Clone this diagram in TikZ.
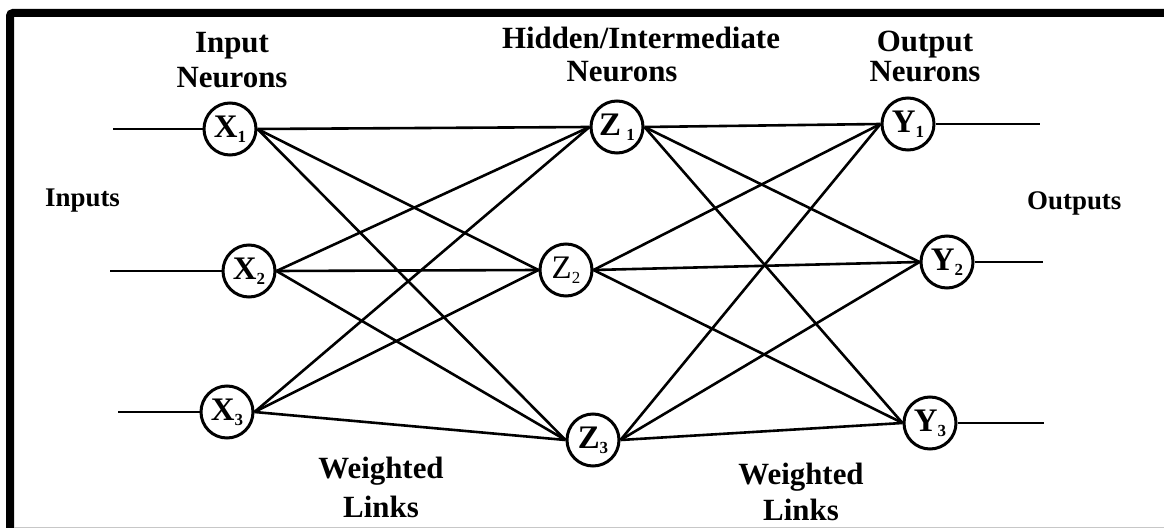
\documentclass[tikz,border=0pt]{standalone}
\usepackage{fontspec}
\setmainfont{Liberation Serif}
\newcommand\nsub[1]{\raisebox{-5bp}{\fontsize{17}{17}\selectfont#1}}
\begin{document}
\begin{tikzpicture}[x=1bp,y=-1bp,
  neuron/.style={circle,draw,line width=3bp,minimum size=52bp,inner sep=0pt,
    font=\fontsize{33}{33}\selectfont\bfseries},
  link/.style={line width=2.6bp},
  heading/.style={font=\fontsize{31}{35}\selectfont\bfseries,inner sep=0pt,anchor=base},
  side/.style={font=\fontsize{27}{30}\selectfont\bfseries,inner sep=0pt,anchor=base west}]
\useasboundingbox (0,0) rectangle (1164,528);
\fill[white] (0,0) rectangle (1164,528);
% frame: thick top and left edges, faint bottom rule
\draw[line width=8bp, rounded corners=3bp] (10,540) -- (10,13) -- (1175,13);
\draw[black!22, line width=1bp] (14,527.5) -- (1164,527.5);

% neurons
\node[neuron] (x1) at (230,129) {X\nsub{1}};
\node[neuron] (x2) at (249,271) {X\nsub{2}};
\node[neuron] (x3) at (227,412) {X\nsub{3}};
\node[neuron] (z1) at (617,127) {Z\,\nsub{1}};
\node[neuron] (z2) at (566,270) {\mdseries Z\nsub{2}};
\node[neuron] (z3) at (593,440) {Z\nsub{3}};
\node[neuron] (y1) at (908,124) {Y\nsub{1}};
\node[neuron] (y2) at (947,262) {Y\nsub{2}};
\node[neuron] (y3) at (930,423) {Y\nsub{3}};

% free ends of the input and output lines
\coordinate (in1) at (113,129);
\coordinate (in2) at (110,271);
\coordinate (in3) at (118,412);
\coordinate (out1) at (1040,124);
\coordinate (out2) at (1043,262);
\coordinate (out3) at (1044,423);

\foreach \i in {1,2,3} {
  \draw[link] (in\i) -- (x\i.west);
  \draw[link] (y\i.east) -- (out\i);
}
\foreach \a in {1,2,3} {
  \foreach \b in {1,2,3} {
    \draw[link] (x\a.east) -- (z\b.west);
    \draw[link] (z\a.east) -- (y\b.west);
  }
}

% labels
\node[heading] (hin) at (232,53) {\begin{tabular}[t]{@{}c@{}}Input\\Neurons\end{tabular}};
\node[heading] (hhid) at (641,49) {\begin{tabular}[t]{@{}c@{}}Hidden/Intermediate\\[-2bp]Neurons\hspace*{38bp}\end{tabular}};
\node[heading] (hout) at (925,52) {\begin{tabular}[t]{@{}c@{}}Output\\[-5bp]Neurons\end{tabular}};
\node[side] (lin) at (45,207) {Inputs};
\node[side] (lout) at (1027,210) {Outputs};
\node[heading] (w1) at (381,478) {\begin{tabular}[t]{@{}c@{}}Weighted\\[5bp]Links\end{tabular}};
\node[heading] (w2) at (801,484) {\begin{tabular}[t]{@{}c@{}}Weighted\\[2bp]Links\end{tabular}};
\end{tikzpicture}
\end{document}
